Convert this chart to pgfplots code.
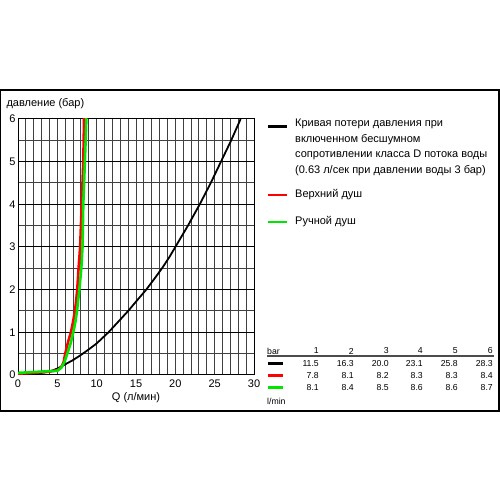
\documentclass[border=0pt]{standalone}
\usepackage{pgfplots}
\pgfplotsset{compat=1.18}
\usepackage{fontspec}
\setmainfont{Liberation Sans}
\definecolor{gr}{RGB}{0,230,0}
\definecolor{rd}{RGB}{255,0,0}
\begin{document}
\begin{tikzpicture}[x=1pt,y=1pt]
\path[fill=white] (0,0) rectangle (500,500);
\draw[line width=1.2pt] (0.6,89) rectangle (499,410);
\begin{axis}[
  at={(18pt,125pt)}, anchor=south west,
  scale only axis, width=236pt, height=256pt,
  xmin=0, xmax=30, ymin=0, ymax=6,
  xtick={0,5,...,30}, ytick={0,1,...,6},
  minor xtick={0,1,...,30}, minor ytick={0.5,1.5,...,5.5},
  xminorgrids=true, ymajorgrids=true, yminorgrids=true,
  major tick length=0pt, minor tick length=0pt,
  major grid style={black, line width=1pt},
  minor grid style={black!75, line width=1pt},
  axis line style={black, line width=1pt},
  tick label style={font=\fontsize{11}{13}\selectfont},
  /pgf/number format/assume math mode=true,
  xticklabel style={yshift=-1pt},
  yticklabel style={xshift=1pt},
  clip=true,
]
\addplot[black, line width=1.8pt] coordinates {
(0,0.02) (2,0.03) (3,0.05) (4,0.08) (5,0.15) (6,0.25) (7,0.35) (8,0.47) (9,0.6) (10,0.74)
(11.5,1.0) (13,1.3) (14,1.5) (15,1.72) (16.3,2.0) (17.4,2.27) (18.3,2.5) (19.2,2.75)
(20,3.0) (21.6,3.5) (23.1,4.0) (24.5,4.5) (25.8,5.0) (27.1,5.5) (28.3,6.0)};
\addplot[rd, line width=2.6pt] coordinates {
(0,0.03) (2,0.05) (4,0.08) (5,0.11) (5.5,0.18) (5.8,0.3) (6.0,0.5) (6.4,0.8) (6.73,1.0)
(7.0,1.25) (7.24,1.5) (7.4,1.75) (7.53,2.0) (7.7,2.5) (7.9,3.0) (8.0,3.5) (8.1,4.0) (8.2,4.5) (8.3,5.0) (8.35,5.5) (8.4,6.05)};
\addplot[gr, line width=2.6pt] coordinates {
(0,0.05) (2,0.07) (4,0.09) (5,0.1) (5.5,0.17) (5.9,0.3) (6.27,0.5) (6.7,0.75) (7.03,1.0)
(7.3,1.25) (7.5,1.5) (7.65,1.75) (7.8,2.0) (8.05,2.5) (8.2,3.0) (8.25,3.5) (8.3,4.0) (8.4,4.5) (8.5,5.0) (8.6,5.5) (8.7,6.05)};
\end{axis}
% axis labels
\node[anchor=west, font=\fontsize{11}{13}\selectfont] at (3,396) {давление (бар)};
\node[font=\fontsize{11}{13}\selectfont] at (136,102) {Q (л/мин)};
% legend
\def\lf{\fontsize{11}{15.5}\selectfont}
\draw[black, line width=2.6pt] (268,373.5) -- (287,373.5);
\node[anchor=north west, align=left, font=\lf, inner sep=0pt] at (295,381) {Кривая потери давления при\\включенном бесшумном\\сопротивлении класса D потока воды\\(0.63 л/сек при давлении воды 3 бар)};
\draw[rd, line width=2.6pt] (268,305) -- (287,305);
\node[anchor=west, font=\lf, inner sep=0pt] at (295,305) {Верхний душ};
\draw[gr, line width=2.6pt] (268,278) -- (287,278);
\node[anchor=west, font=\lf, inner sep=0pt] at (295,278) {Ручной душ};
% table
\def\tf{\fontsize{8.7}{10}\selectfont}
\node[anchor=west, font=\tf, inner sep=0pt] at (267,149) {bar};
\foreach \c/\v in {319/1,354/2,389/3,423/4,458/5,493/6}{
  \node[anchor=east, font=\tf, inner sep=0pt] at (\c,149) {\v};}
\draw[black!70, line width=1.2pt] (267,144) -- (494,144);
\draw[black, line width=2.6pt] (268,136.5) -- (283,136.5);
\draw[rd, line width=2.6pt] (268,124.5) -- (283,124.5);
\draw[gr, line width=2.6pt] (268,112.5) -- (283,112.5);
\foreach \c/\v in {319/11.5,354/16.3,389/20.0,423/23.1,458/25.8,493/28.3}{
  \node[anchor=east, font=\tf, inner sep=0pt] at (\c,136) {\v};}
\foreach \c/\v in {319/7.8,354/8.1,389/8.2,423/8.3,458/8.3,493/8.4}{
  \node[anchor=east, font=\tf, inner sep=0pt] at (\c,124.5) {\v};}
\foreach \c/\v in {319/8.1,354/8.4,389/8.5,423/8.6,458/8.6,493/8.7}{
  \node[anchor=east, font=\tf, inner sep=0pt] at (\c,112.5) {\v};}
\node[anchor=west, font=\tf, inner sep=0pt] at (267,99) {l/min};
\end{tikzpicture}
\end{document}
